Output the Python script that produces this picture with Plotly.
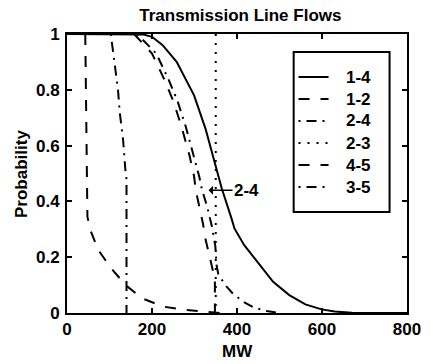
import plotly.graph_objects as go

# ---- data ----
mw_14 = [0, 150, 180, 200, 225, 258, 299, 326, 350, 364, 387, 394, 417, 447, 485, 523, 561, 599, 630, 670, 800]
p_14 = [1, 1, 0.998, 0.99, 0.96, 0.90, 0.78, 0.66, 0.52, 0.447, 0.339, 0.303, 0.243, 0.184, 0.112, 0.064, 0.031, 0.013, 0.005, 0.001, 0]

mw_12 = [43, 45, 47, 48, 55, 74, 104, 138, 176, 226, 278, 320, 360]
p_12 = [1, 0.8, 0.5, 0.345, 0.297, 0.225, 0.16, 0.1, 0.053, 0.023, 0.011, 0.004, 0]

mw_24 = [165, 185, 210, 238, 260, 279, 298, 311, 318, 330, 341, 349, 352, 356, 364, 375, 390, 415, 440, 470, 500]
p_24 = [1, 0.97, 0.93, 0.84, 0.76, 0.67, 0.566, 0.49, 0.44, 0.38, 0.31, 0.24, 0.17, 0.14, 0.12, 0.095, 0.07, 0.04, 0.019, 0.007, 0]

mw_23 = [350, 350]
p_23 = [1, 0]

mw_45 = [158, 176, 200, 228, 250, 269, 288, 299, 303, 320, 325, 336, 341, 346, 348, 348]
p_45 = [1, 0.97, 0.93, 0.84, 0.76, 0.67, 0.566, 0.49, 0.44, 0.32, 0.27, 0.2, 0.17, 0.14, 0.12, 0]

mw_35 = [103, 112, 120, 124, 132, 138, 140, 140]
p_35 = [1, 0.9, 0.8, 0.72, 0.62, 0.5, 0.48, 0]

names = ["1-4", "1-2", "2-4", "2-3", "4-5", "3-5"]
x_ticks = [0, 200, 400, 600, 800]
y_ticks = [0, 0.2, 0.4, 0.6, 0.8, 1]
y_tick_text = ["0", "0.2", "0.4", "0.6", "0.8", "1"]

FONT = "Liberation Sans, Arial, sans-serif"
DASH_DOT = "2px,6px,10px,6px"
DASHED = "11px,11px"
DOTTED = "2px,7px"

series = [
    (mw_14, p_14, "solid"),
    (mw_12, p_12, DASHED),
    (mw_24, p_24, DASH_DOT),
    (mw_23, p_23, DOTTED),
    (mw_45, p_45, DASHED),
    (mw_35, p_35, DASH_DOT),
]

# plot-area geometry in pixels (for paper-coordinate conversion)
W, H = 433, 364
L, R, T, B = 67, 15, 34, 51
PW, PH = W - L - R, H - T - B


def px_x(px):
    return (px - L) / PW


def px_y(py):
    return (H - B - py) / PH


fig = go.Figure()
for (xs, ys, dash), nm in zip(series, names):
    fig.add_trace(go.Scatter(
        x=xs, y=ys, mode="lines", name=nm, showlegend=False,
        line=dict(color="black", width=2, dash=dash),
    ))

bold = dict(family=FONT, size=17, color="black", weight="bold")

axis_common = dict(
    showgrid=False, zeroline=False, showline=True, linecolor="black",
    linewidth=2, mirror="ticks", ticks="inside", ticklen=5, tickwidth=1.5,
    tickcolor="black", tickfont=bold,
)

# legend box + entries (drawn as a framed key)
shapes = [dict(type="rect", xref="paper", yref="paper",
               x0=px_x(301), x1=px_x(400), y0=px_y(212), y1=px_y(52),
               line=dict(color="black", width=2), fillcolor="white",
               layer="above")]
annotations = []
for i, ((xs, ys, dash), nm) in enumerate(zip(series, names)):
    yy = px_y(77 + 22 * i)
    shapes.append(dict(type="line", xref="paper", yref="paper",
                       x0=px_x(306), x1=px_x(337), y0=yy, y1=yy,
                       line=dict(color="black", width=2, dash=dash),
                       layer="above"))
    annotations.append(dict(text=nm, x=px_x(353), y=yy, xref="paper",
                            yref="paper", showarrow=False, xanchor="left",
                            yanchor="middle", font=bold))

annotations += [
    dict(text="2-4", x=333, y=0.44, xref="x", yref="y", showarrow=True,
         ax=38, ay=0, axref="pixel", ayref="pixel", arrowhead=1,
         arrowsize=1, arrowwidth=1.5, arrowcolor="black", font=bold),
    dict(text="MW", x=0.5, y=px_y(352), xref="paper", yref="paper",
         showarrow=False, xanchor="center", yanchor="middle", font=bold),
    dict(text="Probability", x=px_x(20), y=0.5, xref="paper",
         yref="paper", showarrow=False, textangle=-90,
         xanchor="center", yanchor="middle", font=bold),
]

fig.update_layout(
    width=W, height=H,
    margin=dict(l=L, r=R, t=T, b=B),
    paper_bgcolor="white", plot_bgcolor="white",
    font=bold,
    title=dict(text="Transmission Line Flows", x=0.51, xref="paper",
               xanchor="center", y=1 - 15 / H, yanchor="middle", font=bold),
    xaxis=dict(range=[0, 800], tickvals=x_ticks, **axis_common),
    yaxis=dict(range=[0, 1], tickvals=y_ticks, ticktext=y_tick_text,
               ticklabelstandoff=2, **axis_common),
    showlegend=False,
    shapes=shapes,
    annotations=annotations,
)

fig.write_html("out.html")
